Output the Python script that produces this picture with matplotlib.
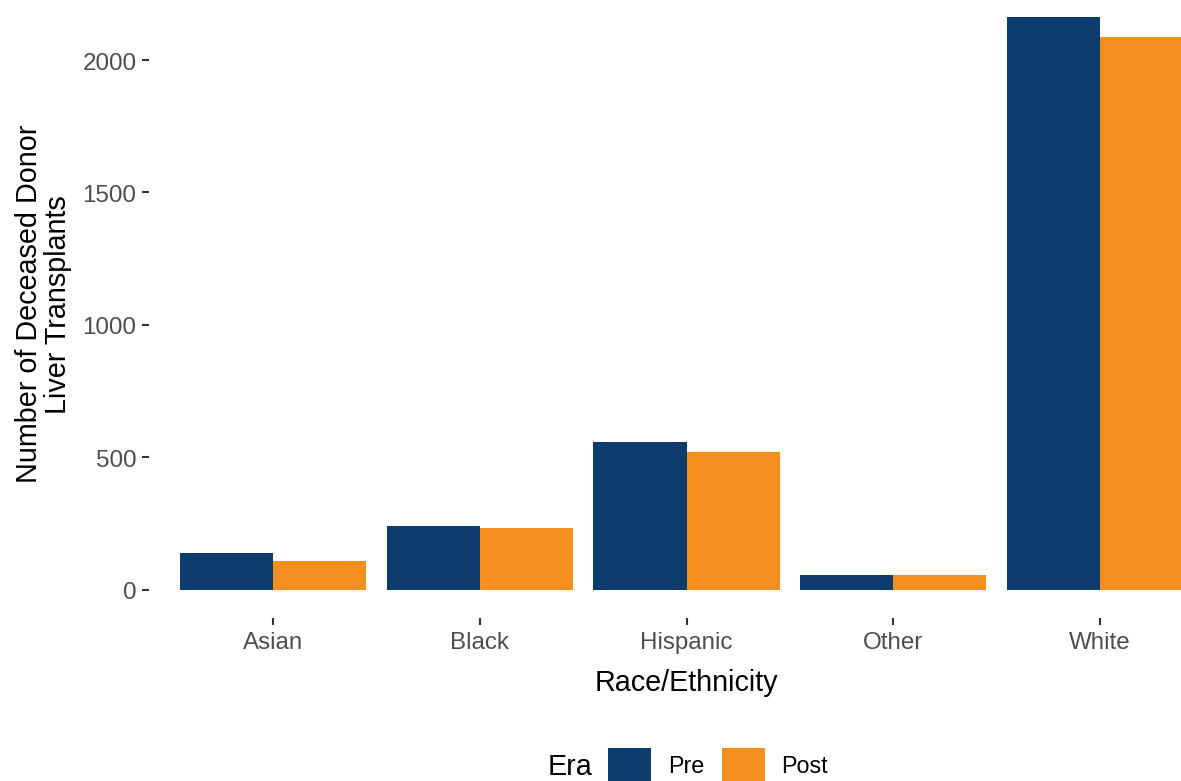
import numpy as np
import matplotlib.pyplot as plt

plt.rcParams['font.family'] = ['Liberation Sans', 'DejaVu Sans']

# data
races = ['Asian', 'Black', 'Hispanic', 'Other', 'White']
pre = [138, 240, 557, 55, 2163]
post = [108, 232, 521, 55, 2087]
eras = ['Pre', 'Post']
colors = ['#0C3C6D', '#F28F1E']

W, H = 1181, 782
fig = plt.figure(figsize=(W / 150, H / 150), dpi=150)

# panel in pixels (right and top spill past the image, as in the reference)
ylo, yhi = -108.15, 2271.15
px_per_unit = 0.26475
zero_px = 590.5
top_px = zero_px - yhi * px_per_unit
bot_px = zero_px - ylo * px_per_unit
left_px, right_px = 149, 1224
ax = fig.add_axes([left_px / W, 1 - bot_px / H,
                   (right_px - left_px) / W, (bot_px - top_px) / H])

x = np.arange(len(races))
ax.bar(x - 0.225, pre, width=0.45, color=colors[0], label=eras[0])
ax.bar(x + 0.225, post, width=0.45, color=colors[1], label=eras[1])

ax.set_xlim(-0.6, 4.6)
ax.set_ylim(ylo, yhi)
ax.set_xticks(x)
ax.set_xticklabels(races)
ax.set_yticks([0, 500, 1000, 1500, 2000])
for s in ax.spines.values():
    s.set_visible(False)
ax.tick_params(length=3.4, width=1.0, color='#333333',
               labelcolor='#4D4D4D', labelsize=11.6, pad=2.6)

ax.set_xlabel('Race/Ethnicity', fontsize=13.8, labelpad=7.5)
ax.set_ylabel('Number of Deceased Donor\nLiver Transplants', fontsize=13.8,
              labelpad=5, linespacing=1.05)

fig.text(548 / W, 1 - 767 / H, 'Era', fontsize=13.8, ha='left', va='center')
fig.legend(loc='center left', bbox_to_anchor=(608 / W, 1 - 766 / H),
           ncol=2, frameon=False, fontsize=11.2, borderpad=0, borderaxespad=0,
           handlelength=1.84, handleheight=1.88, handletextpad=0.72,
           columnspacing=0.76)

fig.savefig('out.png', dpi=150)
